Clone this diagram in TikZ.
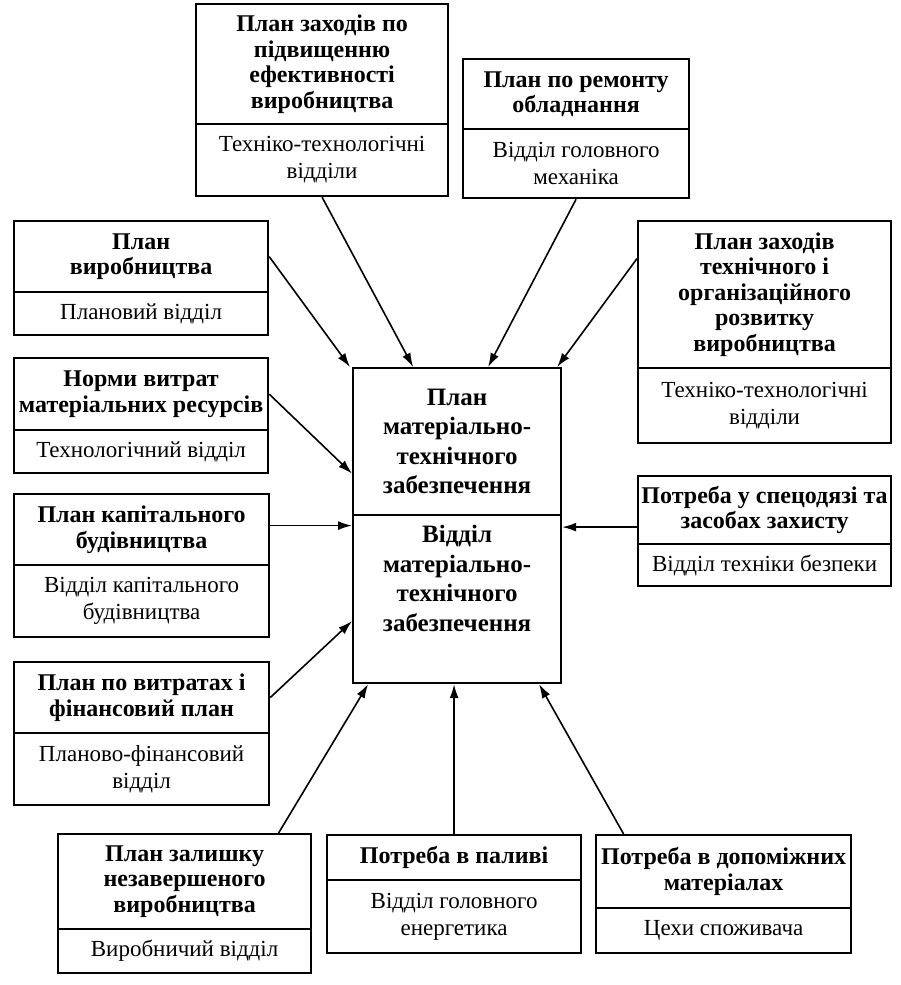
\documentclass[tikz,border=0pt]{standalone}
\usepackage{fontspec}
\setmainfont{Liberation Serif}
\usetikzlibrary{arrows.meta}

\tikzset{
  plantitle/.style={draw,line width=2.2pt,inner sep=1pt,align=center,anchor=north west,
    font=\fontsize{24}{25.5}\selectfont\bfseries},
  dept/.style={draw,line width=2.2pt,inner sep=1pt,align=center,anchor=north west,
    font=\fontsize{23}{27}\selectfont},
  mtz/.style={draw,line width=2.2pt,inner sep=1pt,align=center,anchor=north west,
    font=\fontsize{25}{29.5}\selectfont\bfseries},
  arr/.style={-{Latex[length=14pt,width=9pt]},line width=1.6pt}
}

\begin{document}
\begin{tikzpicture}[x=1pt,y=-1pt]
\useasboundingbox (0,0) rectangle (901,985);

% centre
\node[mtz,minimum width=208pt,minimum height=147pt] (M1) at (352,367) {План\\матеріально-\\технічного\\забезпечення};
\node[mtz,minimum width=208pt,minimum height=168pt] (M2) at (352,514) {Відділ\\матеріально-\\технічного\\забезпечення\\[3pt]\strut};

% top row
\node[plantitle,minimum width=252pt,minimum height=120pt] (A1) at (195,3) {План заходів по\\підвищенню\\ефективності\\виробництва};
\node[dept,minimum width=252pt,minimum height=72pt] (A2) at (195,123) {Техніко-технологічні\\відділи};
\node[plantitle,minimum width=226pt,minimum height=70pt] (B1) at (462,58) {План по ремонту\\обладнання};
\node[dept,minimum width=226pt,minimum height=69pt] (B2) at (462,128) {Відділ головного\\механіка};

% left column
\node[plantitle,minimum width=254pt,minimum height=71pt] (C1) at (13,220) {План\\виробництва};
\node[dept,minimum width=254pt,minimum height=43pt] (C2) at (13,291) {Плановий відділ};
\node[plantitle,minimum width=254pt,minimum height=72pt] (D1) at (13,357) {Норми витрат\\матеріальних ресурсів};
\node[dept,minimum width=254pt,minimum height=43pt] (D2) at (13,429) {Технологічний відділ};
\node[plantitle,minimum width=255pt,minimum height=71pt] (G1) at (13,493) {План капітального\\будівництва};
\node[dept,minimum width=255pt,minimum height=72pt] (G2) at (13,564) {Відділ капітального\\будівництва};
\node[plantitle,minimum width=255pt,minimum height=71pt] (H1) at (13,661) {План по витратах і\\фінансовий план};
\node[dept,minimum width=255pt,minimum height=72pt] (H2) at (13,732) {Планово-фінансовий\\відділ};

% right column
\node[plantitle,minimum width=253pt,minimum height=147pt] (E1) at (637,220) {План заходів\\технічного і\\організаційного\\розвитку\\виробництва};
\node[dept,minimum width=253pt,minimum height=75pt] (E2) at (637,367) {Техніко-технологічні\\відділи};
\node[plantitle,minimum width=253pt,minimum height=68pt] (F1) at (637,475) {Потреба у спецодязі та\\засобах захисту};
\node[dept,minimum width=253pt,minimum height=42pt] (F2) at (637,543) {Відділ техніки безпеки};

% bottom row
\node[plantitle,minimum width=253pt,minimum height=95pt] (I1) at (57,833) {План залишку\\незавершеного\\виробництва};
\node[dept,minimum width=253pt,minimum height=44pt] (I2) at (57,928) {Виробничий відділ};
\node[plantitle,minimum width=254pt,minimum height=45pt] (J1) at (326,834) {Потреба в паливі};
\node[dept,minimum width=254pt,minimum height=73pt] (J2) at (326,879) {Відділ головного\\енергетика};
\node[plantitle,minimum width=255pt,minimum height=73pt] (K1) at (595,834) {Потреба в допоміжних\\матеріалах};
\node[dept,minimum width=255pt,minimum height=45pt] (K2) at (595,907) {Цехи споживача};

% arrows
\draw[arr] (A2.south) -- ([xshift=-44pt]M1.north);
\draw[arr] (B2.south) -- ([xshift=31pt]M1.north);
\draw[arr] (C1.east) -- ([xshift=-2pt]M1.north west);
\draw[arr] ([yshift=36pt]E1.west) -- ([xshift=-5pt]M1.north east);
\draw[arr] (D1.east) -- ([yshift=-32pt]M1.west);
\draw[arr] ([yshift=4pt]G1.east) -- ([yshift=4pt]G1.east -| M2.west);
\draw[arr] ([yshift=-17pt]F1.west) -- ([yshift=-17pt]F1.west -| M2.east);
\draw[arr] (H1.east) -- ([yshift=-22pt]M2.west);
\draw[arr] ([xshift=94pt]I1.north) -- ([xshift=-89pt]M2.south);
\draw[arr] (J1.north) -- (J1.north |- M2.south);
\draw[arr] ([xshift=-100pt]K1.north) -- ([xshift=82pt]M2.south);
\end{tikzpicture}
\end{document}
